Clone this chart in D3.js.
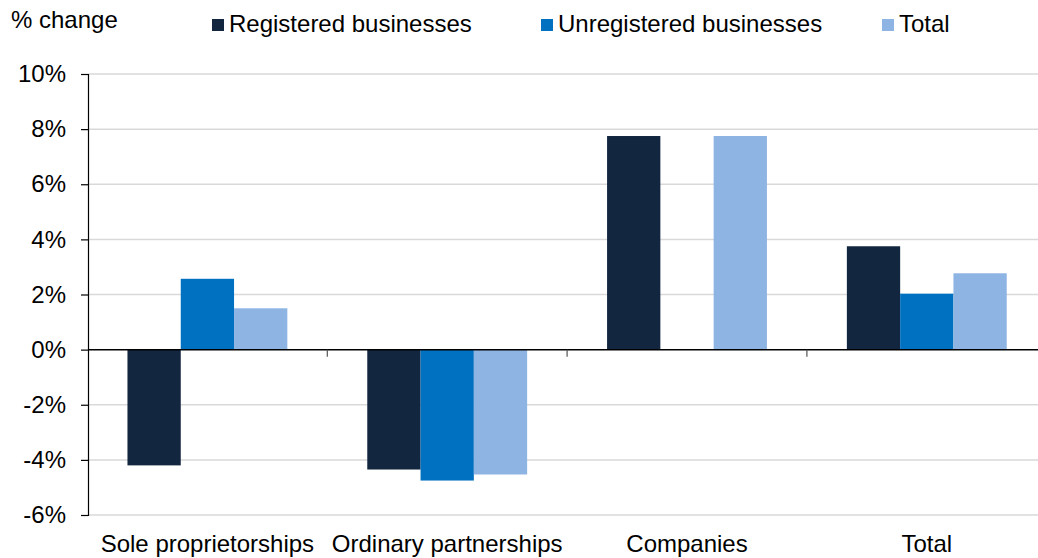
<!DOCTYPE html>
<html>
<head>
<meta charset="utf-8">
<script src="https://cdn.jsdelivr.net/npm/d3@7"></script>
<style>
  html, body { margin: 0; padding: 0; background: #fff; }
  svg { display: block; font-family: "Liberation Sans", Arial, sans-serif; }
</style>
</head>
<body>
<svg id="chart" width="1038" height="558"></svg>
<script>
const categories = ["Sole proprietorships", "Ordinary partnerships", "Companies", "Total"];
const seriesNames = ["Registered businesses", "Unregistered businesses", "Total"];
const registered = [-4.2, -4.35, 7.75, 3.75];
const unregistered = [2.57, -4.75, null, 2.03];
const total = [1.5, -4.53, 7.75, 2.77];
const yTicks = [-6, -4, -2, 0, 2, 4, 6, 8, 10];
const colors = ["#12263f", "#0070c0", "#8eb4e3"];

const seriesValues = [registered, unregistered, total];
const svg = d3.select("#chart");
const FS = "24px";

const y = d3.scaleLinear().domain([-6, 10]).range([515, 74]);
const x = d3.scaleBand().domain(categories).range([87.5, 1046.7]).padding(0);
const x1 = d3.scaleBand().domain(seriesNames).range([0, x.bandwidth()])
  .paddingInner(0).paddingOuter(0.75);

// gridlines
svg.append("g").selectAll("line").data(yTicks.filter(d => d !== 0)).join("line")
  .attr("x1", 88).attr("x2", 1046.7)
  .attr("y1", d => y(d)).attr("y2", d => y(d))
  .attr("stroke", "#d9d9d9").attr("stroke-width", 1.5);

// bars
const rows = [];
categories.forEach((c, i) => {
  seriesNames.forEach((s, j) => {
    const v = seriesValues[j][i];
    if (v !== null && v !== undefined) rows.push({ c, s, v, j });
  });
});
svg.append("g").selectAll("rect").data(rows).join("rect")
  .attr("x", d => x(d.c) + x1(d.s))
  .attr("width", x1.bandwidth())
  .attr("y", d => Math.min(y(d.v), y(0)))
  .attr("height", d => Math.abs(y(d.v) - y(0)))
  .attr("fill", d => colors[d.j]);

// y axis
const yAxis = d3.axisLeft(y).tickValues(yTicks).tickFormat(d => d + "%").tickSize(7).tickPadding(15);
const gy = svg.append("g").attr("transform", "translate(88,0)").call(yAxis);
gy.select(".domain").attr("stroke", "#000").attr("stroke-width", 1.2);
gy.selectAll(".tick line").attr("stroke", "#000").attr("stroke-width", 1.2);
gy.selectAll(".tick text").attr("font-size", FS).attr("fill", "#000")
  .attr("font-family", "'Liberation Sans', Arial, sans-serif");

// zero line with category boundary ticks
const gx = svg.append("g").attr("transform", `translate(0,${y(0)})`);
gx.append("line").attr("x1", 88).attr("x2", 1046.7).attr("y1", 0).attr("y2", 0)
  .attr("stroke", "#000").attr("stroke-width", 1.5);
gx.selectAll(".bt").data(categories.slice(1)).join("line")
  .attr("class", "bt")
  .attr("x1", d => x(d)).attr("x2", d => x(d))
  .attr("y1", 0).attr("y2", 7)
  .attr("stroke", "#555").attr("stroke-width", 1.2);

// category labels
svg.append("g").selectAll("text").data(categories).join("text")
  .attr("x", d => x(d) + x.bandwidth() / 2)
  .attr("y", 552)
  .attr("text-anchor", "middle")
  .attr("font-size", FS)
  .attr("fill", "#000")
  .text(d => d);

// y title
svg.append("text").attr("x", 11).attr("y", 27.5)
  .attr("font-size", FS).attr("fill", "#000").text("% change");

// legend
const legendX = [212, 541, 882];
const lg = svg.append("g").selectAll("g").data(seriesNames).join("g")
  .attr("transform", (d, i) => `translate(${legendX[i]},0)`);
lg.append("rect").attr("x", 0).attr("y", 19).attr("width", 12).attr("height", 12)
  .attr("fill", (d, i) => colors[i]);
lg.append("text").attr("x", 17).attr("y", 31.5)
  .attr("font-size", FS).attr("fill", "#000").text(d => d);
</script>
</body>
</html>
